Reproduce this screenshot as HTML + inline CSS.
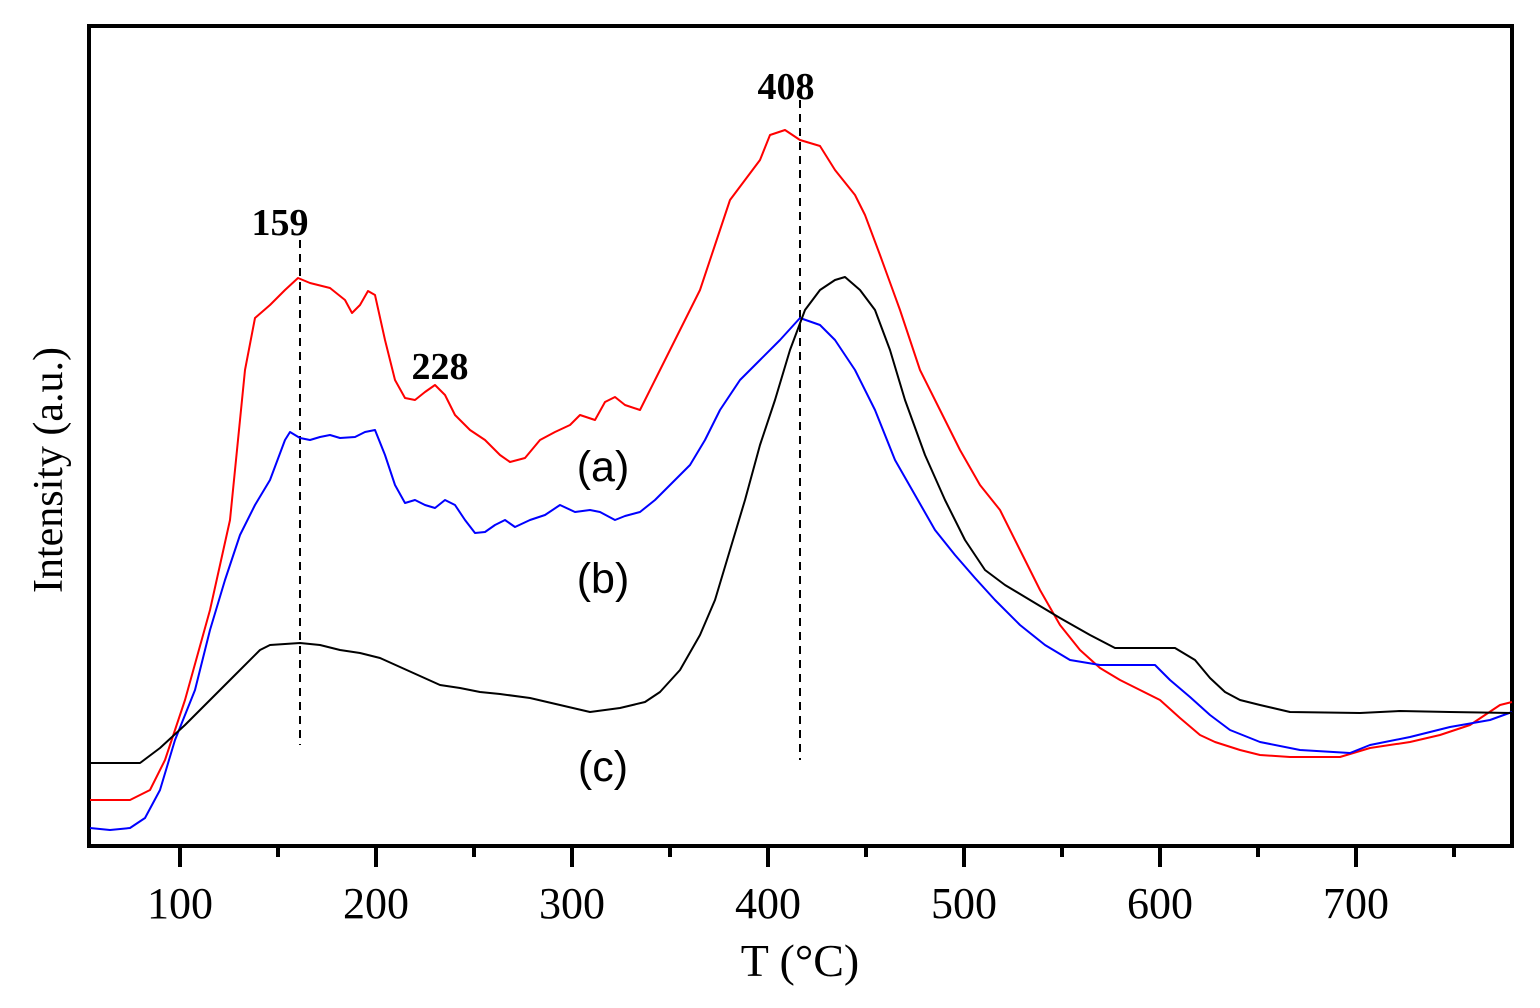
<!DOCTYPE html>
<html><head><style>body{margin:0;background:#fff}svg{display:block}</style></head><body>
<svg width="1540" height="1008" viewBox="0 0 1540 1008" xmlns="http://www.w3.org/2000/svg">
<rect x="89" y="26" width="1423" height="820" fill="none" stroke="#000" stroke-width="4"/>
<g stroke="#000" stroke-width="4">
<line x1="180" y1="846" x2="180" y2="867"/><line x1="376" y1="846" x2="376" y2="867"/><line x1="572" y1="846" x2="572" y2="867"/><line x1="768" y1="846" x2="768" y2="867"/><line x1="964" y1="846" x2="964" y2="867"/><line x1="1160" y1="846" x2="1160" y2="867"/><line x1="1356" y1="846" x2="1356" y2="867"/>
<line x1="278" y1="846" x2="278" y2="857"/><line x1="474" y1="846" x2="474" y2="857"/><line x1="670" y1="846" x2="670" y2="857"/><line x1="866" y1="846" x2="866" y2="857"/><line x1="1062" y1="846" x2="1062" y2="857"/><line x1="1258" y1="846" x2="1258" y2="857"/><line x1="1454" y1="846" x2="1454" y2="857"/>
</g>
<g font-family="Liberation Serif, serif" font-size="44" text-anchor="middle" fill="#000">
<text x="180" y="918">100</text><text x="376" y="918">200</text><text x="572" y="918">300</text><text x="768" y="918">400</text><text x="964" y="918">500</text><text x="1160" y="918">600</text><text x="1356" y="918">700</text>
<text x="800" y="976" font-size="46">T (°C)</text>
<text transform="translate(62,470) rotate(-90)" font-size="42">Intensity (a.u.)</text>
</g>
<g stroke="#000" stroke-width="2" stroke-dasharray="8,6">
<line x1="300" y1="240" x2="300" y2="745"/><line x1="800" y1="100" x2="800" y2="760"/>
</g>
<g font-family="Liberation Serif, serif" font-size="38" font-weight="bold" text-anchor="middle">
<text x="280" y="235">159</text><text x="440" y="379">228</text><text x="786" y="99">408</text>
</g>
<g font-family="Liberation Sans, sans-serif" font-size="43" text-anchor="middle">
<text x="603" y="481">(a)</text><text x="603" y="593">(b)</text><text x="603" y="781">(c)</text>
</g>
<g fill="none" stroke-width="2" stroke-linejoin="round">
<polyline stroke="#ff0000" points="90,800 130,800 150,790 165,760 185,700 210,610 230,520 245,370 255,318 270,305 285,290 298,278 310,283 330,288 345,300 352,313 360,305 368,291 375,295 385,340 395,380 405,398 415,400 425,392 435,385 445,395 455,415 470,430 485,440 500,455 510,462 525,458 540,440 555,432 570,425 580,415 595,420 605,402 615,397 625,405 640,410 655,380 670,350 685,320 700,290 715,245 730,200 745,180 760,160 770,135 785,130 800,140 820,146 835,170 855,195 865,215 880,255 900,310 920,370 940,410 960,450 980,485 1000,510 1020,550 1040,590 1060,625 1080,650 1100,668 1120,680 1140,690 1160,700 1180,718 1200,735 1215,742 1240,750 1260,755 1290,757 1340,757 1370,748 1410,742 1440,735 1470,725 1500,705 1512,702"/>
<polyline stroke="#0000ff" points="90,828 110,830 130,828 145,818 160,790 175,740 195,690 210,630 225,580 240,535 255,505 270,480 285,440 290,432 300,438 310,440 320,437 330,435 340,438 355,437 365,432 375,430 385,455 395,485 405,503 415,500 425,505 435,508 445,500 455,505 465,520 475,533 485,532 495,525 505,520 515,527 530,520 545,515 560,505 575,512 590,510 600,512 615,520 625,516 640,512 655,500 670,485 690,465 705,440 720,410 740,380 760,360 780,340 800,318 820,325 835,340 855,370 875,410 895,460 915,495 935,530 955,555 975,578 995,600 1020,625 1045,645 1070,660 1100,665 1145,665 1155,665 1170,680 1190,697 1210,715 1230,730 1260,742 1300,750 1350,753 1370,745 1410,737 1450,727 1490,720 1512,712"/>
<polyline stroke="#000" points="90,763 140,763 160,748 185,725 210,700 235,675 260,650 270,645 300,643 320,645 340,650 360,653 380,658 400,667 420,676 440,685 460,688 480,692 500,694 530,698 560,705 590,712 620,708 645,702 660,692 680,670 700,635 715,600 730,550 745,500 760,445 775,400 790,350 805,310 820,290 835,280 845,277 860,290 875,310 890,350 905,400 925,455 945,500 965,540 985,570 1005,585 1030,600 1060,618 1090,635 1115,648 1175,648 1195,660 1210,678 1225,692 1240,700 1260,705 1290,712 1360,713 1400,711 1450,712 1512,713"/>
</g>
</svg>
</body></html>
